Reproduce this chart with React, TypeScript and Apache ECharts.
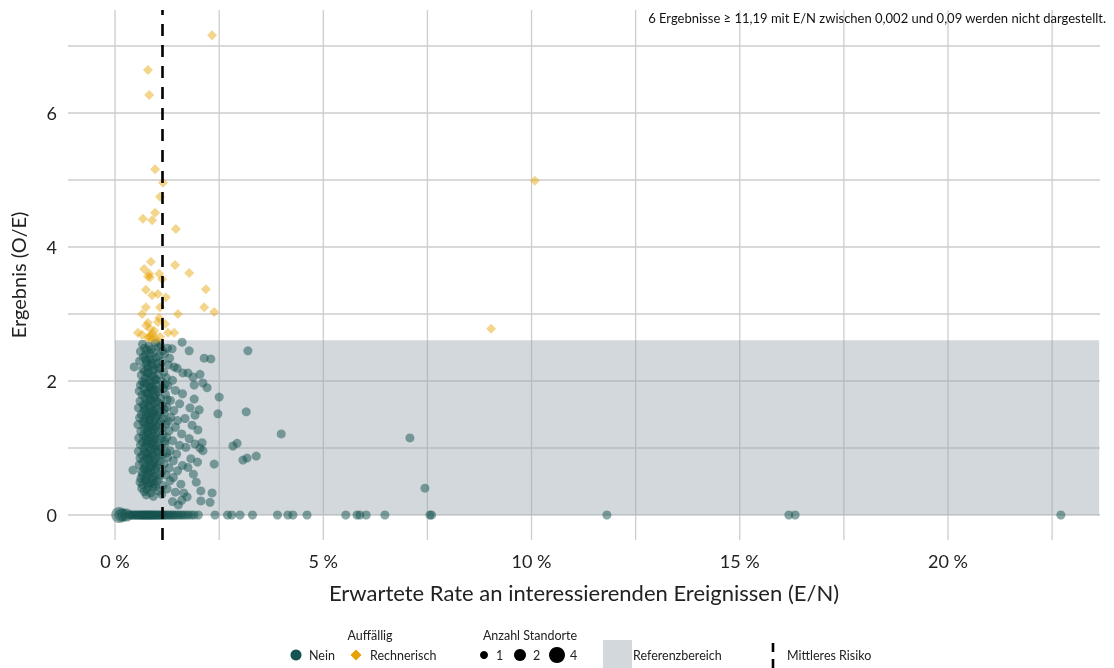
import React, { useEffect, useRef } from "react";
import * as echarts from "echarts";

const FONT = "Lato, 'Open Sans', sans-serif";

const X_TICKS = [0, 5, 10, 15, 20];
const Y_TICKS = [0, 2, 4, 6];
const X_GRID = [0, 2.5, 5, 7.5, 10, 12.5, 15, 17.5, 20, 22.5];
const Y_GRID = [0, 1, 2, 3, 4, 5, 6, 7];
const MEAN_RISK = 1.13;
const REF_LOW = 0;
const REF_HIGH = 2.61;
const REF_X_MAX = 23.63;

const X_MIN = -1.13;
const X_MAX = 23.65;
const Y_MIN = -0.373;
const Y_MAX = 7.537;

// Auffällig = Rechnerisch : [E/N in %, O/E]
const rechnerisch: [number, number][] = [
  [2.33, 7.16], [0.79, 6.64], [0.82, 6.27], [0.96, 5.16], [1.15, 4.96], [1.08, 4.75],
  [0.96, 4.51], [0.67, 4.42], [0.89, 4.40], [1.46, 4.27], [0.86, 3.78], [0.70, 3.67],
  [0.82, 3.60], [0.84, 3.55], [1.06, 3.60], [1.44, 3.73], [1.78, 3.61], [1.13, 3.52],
  [0.79, 3.56], [0.74, 3.36], [0.89, 3.28], [1.03, 3.30], [1.22, 3.25], [2.18, 3.37],
  [0.74, 3.10], [1.08, 3.10], [2.14, 3.10], [2.38, 3.03], [0.65, 3.00], [1.51, 3.00],
  [0.79, 2.87], [1.06, 2.94], [1.03, 2.88], [1.20, 2.85], [0.84, 2.78], [0.55, 2.72],
  [0.65, 2.69], [0.82, 2.66], [0.91, 2.70], [1.08, 2.66], [1.27, 2.72], [1.42, 2.72],
  [0.89, 2.63], [0.79, 2.64], [0.94, 2.75], [0.86, 2.68], [1.00, 2.62], [0.75, 2.83],
  [9.03, 2.78], [10.08, 4.99],
];

// Auffällig = Nein, O/E > 0 : [E/N in %, O/E]
const neinPositive: [number, number][] = [
  [0.66, 2.55], [0.81, 2.52], [0.97, 2.57], [1.09, 2.53], [1.61, 2.58],
  [0.71, 2.49], [0.87, 2.47], [1.03, 2.51], [1.26, 2.49], [1.37, 2.48],
  [0.61, 2.44], [0.76, 2.46], [0.93, 2.43], [1.14, 2.45], [1.78, 2.45], [3.19, 2.45],
  [0.73, 2.39], [0.84, 2.41], [1.06, 2.38], [1.19, 2.41],
  [0.68, 2.36], [0.83, 2.33], [0.99, 2.35], [1.31, 2.34], [2.14, 2.34], [2.30, 2.33],
  [0.59, 2.30], [0.77, 2.28], [0.91, 2.31], [1.12, 2.29],
  [0.75, 2.25], [0.87, 2.23], [1.01, 2.26], [1.28, 2.24], [1.42, 2.21],
  [0.46, 2.21], [0.67, 2.18], [0.79, 2.20], [0.94, 2.17], [1.07, 2.21], [1.49, 2.19],
  [0.71, 2.14], [0.89, 2.16], [1.17, 2.13], [1.63, 2.12],
  [0.63, 2.09], [0.78, 2.11], [0.92, 2.07], [1.04, 2.10], [1.75, 2.12], [2.04, 2.10],
  [0.73, 2.04], [0.85, 2.06], [0.99, 2.02], [1.23, 2.05], [1.87, 2.06],
  [0.66, 1.99], [0.81, 2.01], [0.91, 1.97], [1.11, 2.00], [1.38, 2.01],
  [0.61, 1.94], [0.75, 1.96], [0.85, 1.92], [0.98, 1.95], [1.27, 1.93], [1.90, 1.94], [2.11, 1.97],
  [0.69, 1.89], [0.83, 1.90], [0.94, 1.87], [1.16, 1.89], [2.21, 1.90],
  [0.58, 1.85], [0.77, 1.83], [0.87, 1.86], [1.03, 1.84], [1.45, 1.86],
  [0.65, 1.79], [0.79, 1.81], [0.92, 1.78], [1.21, 1.80], [1.62, 1.81],
  [0.72, 1.75], [0.85, 1.73], [0.95, 1.76], [1.09, 1.74], [1.90, 1.73], [2.50, 1.76],
  [0.60, 1.70], [0.76, 1.68], [0.88, 1.71], [1.01, 1.69], [1.33, 1.71],
  [0.68, 1.65], [0.81, 1.63], [0.93, 1.66], [1.13, 1.64], [1.55, 1.66],
  [0.56, 1.60], [0.72, 1.58], [0.86, 1.61], [0.99, 1.59], [1.24, 1.61], [1.80, 1.60],
  [0.69, 1.55], [0.83, 1.53], [0.95, 1.56], [1.07, 1.54], [1.41, 1.56], [2.02, 1.57],
  [0.63, 1.50], [0.78, 1.48], [0.90, 1.51], [1.02, 1.49], [1.18, 1.52], [1.92, 1.49], [2.47, 1.51], [3.15, 1.54],
  [0.59, 1.45], [0.71, 1.43], [0.85, 1.46], [0.97, 1.44], [1.34, 1.46], [1.68, 1.44],
  [0.67, 1.39], [0.81, 1.41], [0.93, 1.38], [1.09, 1.40], [1.50, 1.41],
  [0.55, 1.35], [0.75, 1.33], [0.86, 1.36], [0.98, 1.34], [1.22, 1.36], [1.85, 1.34],
  [0.70, 1.29], [0.82, 1.31], [0.94, 1.28], [1.13, 1.30], [1.45, 1.31],
  [0.62, 1.25], [0.77, 1.23], [0.88, 1.26], [1.04, 1.24], [1.30, 1.26], [1.99, 1.27],
  [0.68, 1.19], [0.79, 1.21], [0.92, 1.18], [1.15, 1.20], [1.60, 1.21], [3.99, 1.21],
  [0.57, 1.15], [0.74, 1.13], [0.85, 1.16], [0.96, 1.14], [1.24, 1.16], [1.78, 1.14], [7.08, 1.15],
  [0.66, 1.09], [0.79, 1.11], [0.91, 1.08], [1.05, 1.10], [1.38, 1.11], [2.09, 1.08],
  [0.61, 1.05], [0.73, 1.03], [0.87, 1.06], [0.99, 1.04], [1.20, 1.06], [1.55, 1.04], [1.92, 1.06], [2.93, 1.07],
  [0.69, 0.99], [0.82, 1.01], [0.95, 0.98], [1.10, 1.00], [1.70, 1.01], [2.04, 1.00], [2.83, 1.03],
  [0.56, 0.95], [0.76, 0.93], [0.86, 0.96], [1.02, 0.94], [1.32, 0.96], [2.11, 0.96],
  [0.65, 0.89], [0.78, 0.91], [0.93, 0.88], [1.14, 0.90], [1.48, 0.91], [3.39, 0.88],
  [0.60, 0.85], [0.72, 0.83], [0.84, 0.86], [0.97, 0.84], [1.26, 0.86], [1.82, 0.84], [3.17, 0.85],
  [0.67, 0.79], [0.81, 0.81], [0.93, 0.78], [1.08, 0.80], [1.40, 0.81], [1.98, 0.79], [3.07, 0.82],
  [0.58, 0.75], [0.74, 0.73], [0.87, 0.76], [1.00, 0.74], [1.18, 0.76], [1.62, 0.74], [2.38, 0.76],
  [0.69, 0.69], [0.82, 0.71], [0.96, 0.68], [1.30, 0.70], [1.75, 0.71],
  [0.43, 0.67], [0.64, 0.64], [0.78, 0.66], [0.90, 0.63], [1.12, 0.65], [1.50, 0.66],
  [0.66, 0.59], [0.80, 0.61], [0.95, 0.58], [1.22, 0.60], [1.88, 0.61],
  [0.62, 0.55], [0.75, 0.53], [0.88, 0.56], [1.05, 0.54], [1.40, 0.56],
  [0.60, 0.49], [0.72, 0.51], [0.85, 0.48], [1.00, 0.50], [1.32, 0.51], [1.95, 0.49],
  [0.66, 0.45], [0.80, 0.43], [0.94, 0.46], [1.15, 0.44], [1.58, 0.46],
  [0.64, 0.40], [0.77, 0.38], [0.90, 0.41], [1.25, 0.39], [7.44, 0.40],
  [0.70, 0.35], [0.85, 0.33], [1.05, 0.36], [1.45, 0.34], [2.06, 0.36],
  [0.75, 0.30], [0.92, 0.28], [1.12, 0.31], [1.65, 0.33], [1.73, 0.27], [2.33, 0.33],
  [1.38, 0.20], [2.28, 0.19], [1.60, 0.22], [2.06, 0.21], [1.52, 0.15],
  // additional points in the dense core
  [0.74, 2.32], [0.89, 2.27], [1.04, 2.19], [0.80, 2.13], [0.96, 2.03], [0.70, 1.97],
  [0.88, 1.91], [1.06, 1.88], [0.74, 1.82], [0.97, 1.80], [0.82, 1.72], [1.05, 1.67],
  [0.70, 1.62], [0.90, 1.57], [0.76, 1.51], [0.99, 1.47], [0.83, 1.42], [1.15, 1.44],
  [0.71, 1.37], [0.91, 1.32], [1.06, 1.35], [0.79, 1.27], [0.97, 1.22], [0.73, 1.17],
  [0.89, 1.12], [1.09, 1.14], [0.76, 1.07], [0.93, 1.02], [1.03, 0.97], [0.71, 0.94],
  [0.87, 0.90], [1.05, 0.86], [0.78, 0.84], [0.90, 0.75], [0.72, 0.69], [0.99, 0.71],
  [0.85, 0.64], [0.73, 0.58], [0.91, 0.52], [0.78, 0.47], [1.08, 0.60], [0.97, 0.42],
  [1.20, 1.95], [1.25, 1.72], [1.18, 1.58], [1.28, 1.40], [1.19, 1.10], [1.24, 0.93],
];

// Auffällig = Nein, O/E = 0 : E/N in %
const neinZeroX: number[] = [
  0.35, 0.38, 0.42, 0.45, 0.48, 0.51, 0.54, 0.57, 0.60, 0.62, 0.65, 0.67, 0.70, 0.72,
  0.74, 0.77, 0.79, 0.81, 0.84, 0.86, 0.89, 0.91, 0.94, 0.96, 0.99, 1.02, 1.05, 1.08,
  1.11, 1.14, 1.17, 1.20, 1.24, 1.28, 1.32, 1.36, 1.40, 1.44, 1.49, 1.54, 1.59, 1.64,
  1.70, 1.76, 1.83, 1.90, 2.00, 2.40, 2.70, 2.80, 3.00, 3.30, 3.90, 4.15, 4.27, 4.61,
  5.54, 5.81, 5.88, 6.03, 6.48, 7.56, 7.60, 11.81, 16.18, 16.33, 22.71,
];

// Nein points at O/E = 0 with more sites : [E/N in %, O/E, Anzahl Standorte]
const neinMulti: [number, number, number][] = [
  [0.1, 0, 4], [0.2, 0, 2], [0.14, 0, 2], [0.28, 0, 2],
];

const SIZE_BY_COUNT: Record<number, number> = { 1: 9, 2: 13, 4: 16 };

const TEAL = "#155450";
const ORANGE = "#e7a100";

export default function App() {
  const ref = useRef<HTMLDivElement>(null);

  useEffect(() => {
    if (!ref.current) return;
    const chart = echarts.init(ref.current, null, { renderer: "svg" });

    const neinData = [
      ...neinMulti,
      ...neinZeroX.map((x) => [x, 0, 1]),
      ...neinPositive.map(([x, y]) => [x, y, 1]),
    ];
    const rechData = rechnerisch.map(([x, y]) => [x, y, 1]);

    const gridColor = "#cdcdcd";
    // [value, 0 = vertical line at x, 1 = horizontal line at y]
    const gridData = [
      ...X_GRID.map((v) => [v, 0]),
      ...Y_GRID.map((v) => [v, 1]),
    ];

    const legendY = 655;
    const titleY = 635;
    const txt = (x: number, y: number, text: string, align = "left") => ({
      type: "text",
      x,
      y,
      style: {
        text,
        font: `12.5px ${FONT}`,
        fill: "#222",
        textAlign: align,
        textVerticalAlign: "middle",
      },
    });

    chart.setOption({
      animation: false,
      textStyle: { fontFamily: FONT },
      grid: { left: 68, right: 14, top: 10, bottom: 128, containLabel: false },
      xAxis: {
        type: "value",
        min: X_MIN,
        max: X_MAX,
        axisLine: { show: false },
        axisTick: { show: false },
        splitLine: { show: false },
        axisLabel: {
          customValues: X_TICKS,
          formatter: (v: number) => `${v} %`,
          fontSize: 18,
          color: "#222",
          margin: 12,
          fontFamily: FONT,
        },
        name: "Erwartete Rate an interessierenden Ereignissen (E/N)",
        nameLocation: "middle",
        nameGap: 41,
        nameTextStyle: { fontSize: 22, color: "#222", fontFamily: FONT },
      },
      yAxis: {
        type: "value",
        min: Y_MIN,
        max: Y_MAX,
        axisLine: { show: false },
        axisTick: { show: false },
        splitLine: { show: false },
        axisLabel: {
          customValues: Y_TICKS,
          fontSize: 18,
          color: "#222",
          margin: 11,
          fontFamily: FONT,
        },
        name: "Ergebnis (O/E)",
        nameLocation: "middle",
        nameGap: 40,
        nameTextStyle: { fontSize: 20, color: "#222", fontFamily: FONT },
      },
      series: [
        {
          name: "grid",
          type: "custom",
          z: 1,
          silent: true,
          data: gridData,
          encode: { x: 0 },
          renderItem: (params: any, api: any) => {
            const v = api.value(0);
            const kind = api.value(1);
            const cs = params.coordSys;
            if (kind === 0) {
              const p = api.coord([v, 0]);
              return {
                type: "line",
                shape: { x1: p[0], y1: cs.y, x2: p[0], y2: cs.y + cs.height },
                style: { stroke: gridColor, lineWidth: 1.3 },
              };
            }
            const p = api.coord([0, v]);
            return {
              type: "line",
              shape: { x1: cs.x, y1: p[1], x2: cs.x + cs.width, y2: p[1] },
              style: { stroke: gridColor, lineWidth: 1.3 },
            };
          },
        },
        {
          name: "Referenzbereich",
          type: "custom",
          z: 2,
          silent: true,
          data: [[0, REF_LOW, REF_X_MAX, REF_HIGH]],
          encode: { x: [0, 2], y: [1, 3] },
          renderItem: (params: any, api: any) => {
            const p1 = api.coord([api.value(0), api.value(3)]);
            const p2 = api.coord([api.value(2), api.value(1)]);
            return {
              type: "rect",
              shape: { x: p1[0], y: p1[1], width: p2[0] - p1[0], height: p2[1] - p1[1] },
              style: { fill: "rgba(150,162,172,0.42)" },
            };
          },
        },
        {
          name: "Nein",
          type: "scatter",
          z: 3,
          symbol: "circle",
          symbolSize: (d: number[]) => SIZE_BY_COUNT[d[2]] ?? 9,
          itemStyle: { color: TEAL, opacity: 0.5 },
          data: neinData,
        },
        {
          name: "Rechnerisch",
          type: "scatter",
          z: 4,
          symbol: "diamond",
          symbolSize: (d: number[]) => (SIZE_BY_COUNT[d[2]] ?? 9) + 1,
          itemStyle: { color: ORANGE, opacity: 0.45 },
          data: rechData,
        },
        {
          name: "Mittleres Risiko",
          type: "scatter",
          data: [],
          z: 5,
          silent: true,
          markLine: {
            silent: true,
            symbol: ["none", "none"],
            label: { show: false },
            lineStyle: { color: "#000", width: 2.6, type: [12, 9] },
            data: [{ xAxis: MEAN_RISK }],
          },
        },
      ],
      graphic: [
        {
          type: "text",
          x: 1106,
          y: 18,
          z: 10,
          style: {
            text: "6 Ergebnisse ≥ 11,19 mit E/N zwischen 0,002 und 0,09 werden nicht dargestellt.",
            font: `13px ${FONT}`,
            fill: "#111",
            textAlign: "right",
            textVerticalAlign: "middle",
          },
        },
        txt(370, titleY, "Auffällig", "center"),
        { type: "circle", shape: { cx: 296, cy: legendY, r: 5.5 }, style: { fill: TEAL } },
        txt(309, legendY, "Nein"),
        {
          type: "polygon",
          shape: { points: [[356, legendY - 5.5], [361.5, legendY], [356, legendY + 5.5], [350.5, legendY]] },
          style: { fill: ORANGE },
        },
        txt(370, legendY, "Rechnerisch"),
        txt(530, titleY, "Anzahl Standorte", "center"),
        { type: "circle", shape: { cx: 484, cy: legendY, r: 4 }, style: { fill: "#000" } },
        txt(496, legendY, "1"),
        { type: "circle", shape: { cx: 520, cy: legendY, r: 6 }, style: { fill: "#000" } },
        txt(533, legendY, "2"),
        { type: "circle", shape: { cx: 557, cy: legendY, r: 8 }, style: { fill: "#000" } },
        txt(570, legendY, "4"),
        { type: "rect", shape: { x: 603, y: 640, width: 29, height: 28 }, style: { fill: "#d3d8dc" } },
        txt(633, legendY, "Referenzbereich"),
        {
          type: "line",
          shape: { x1: 773, y1: 643, x2: 773, y2: 668 },
          style: { stroke: "#000", lineWidth: 2.6, lineDash: [9, 7] },
        },
        txt(787, legendY, "Mittleres Risiko"),
      ],
    });

    return () => chart.dispose();
  }, []);

  return (
    <div
      ref={ref}
      style={{ position: "fixed", left: 0, top: 0, width: 1114, height: 668 }}
    />
  );
}
